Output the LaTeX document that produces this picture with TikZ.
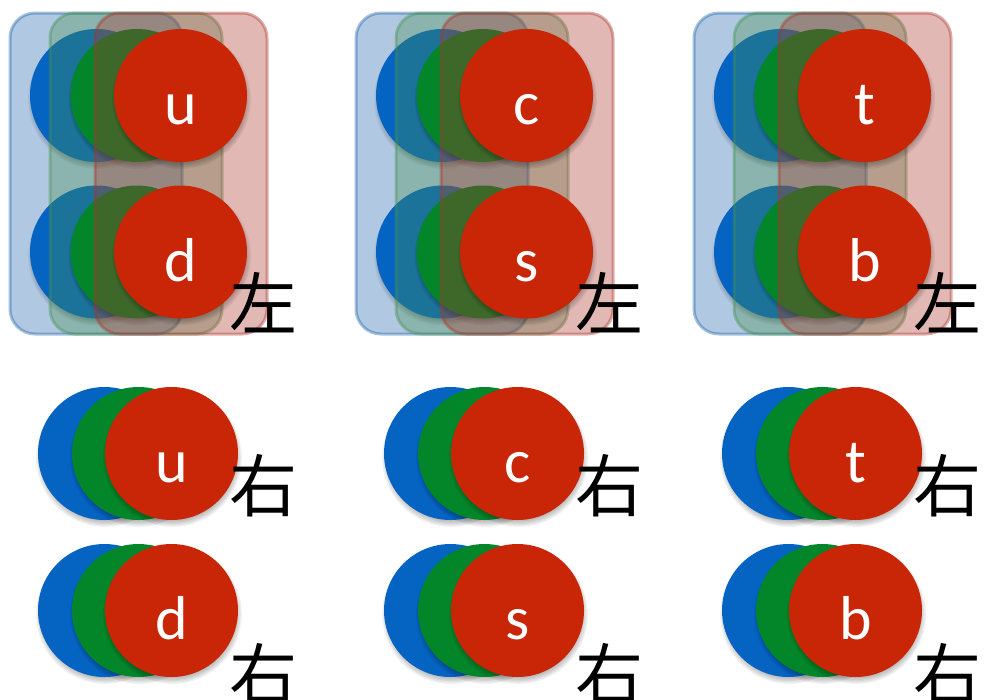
\documentclass[tikz,border=0pt]{standalone}
\usepackage{fontspec}
\setmainfont{Carlito}
\newfontfamily\cjk{Noto Sans CJK SC}
\usetikzlibrary{calc}
\definecolor{qblue}{RGB}{5,99,193}
\definecolor{qgreen}{RGB}{3,133,42}
\definecolor{qred}{RGB}{200,38,6}
\definecolor{rblue}{RGB}{30,100,172}
\definecolor{rgreen}{RGB}{70,145,80}
\definecolor{rred}{RGB}{172,52,42}
\tikzset{
  ball/.style={circle, minimum size=133pt, inner sep=0pt, text=white,
    font=\fontsize{62}{62}\selectfont, text height=58pt, text depth=0pt},
  multibox/.style={rectangle, rounded corners=25pt, minimum width=172pt,
    minimum height=321pt, inner sep=0pt, line width=3pt,
    fill opacity=0.35, draw opacity=0.4},
  hand/.style={font=\cjk\fontsize{68}{68}\selectfont, inner sep=0pt, text=black},
  softshade/.style={black, opacity=0.055},
}
\newcommand\qball[5]{%
  \foreach \kk in {0,...,6}{\fill[softshade] (#2+1,#3+4) circle[radius={(61+1.4*\kk)*1pt}];}
  \node[ball, fill=#4] (#1) at (#2,#3) {#5};}
\begin{document}
\begin{tikzpicture}[x=1pt,y=-1pt]
\useasboundingbox (0,0) rectangle (984,699);
\fill[white] (0,0) rectangle (984,699);
\foreach \X/\up/\dn/\col in {0/u/d/1, 346/c/s/2, 684/t/b/3}{
  % left-handed doublet
  \node[multibox, fill=rblue, draw=rblue] (L\col B) at (\X+96,173.5) {};
  \qball{L\col ub}{\X+96.5}{95.5}{qblue}{}
  \qball{L\col db}{\X+96.5}{252}{qblue}{}
  \node[multibox, fill=rgreen, draw=rgreen] (L\col G) at (\X+136,173.5) {};
  \qball{L\col ug}{\X+137}{95.5}{qgreen}{}
  \qball{L\col dg}{\X+137}{252}{qgreen}{}
  \node[multibox, fill=rred, draw=rred] (L\col R) at (\X+181,173.5) {};
  \qball{L\col ur}{\X+180.5}{95.5}{qred}{\up}
  \qball{L\col dr}{\X+180.5}{252}{qred}{\dn}
  \node[hand] (L\col h) at (\X+263.5,302.5) {左};
  % right-handed singlets
  \qball{R\col ub}{\X+104.5}{453.5}{qblue}{}
  \qball{R\col ug}{\X+138.5}{453.5}{qgreen}{}
  \qball{R\col ur}{\X+171.5}{453.5}{qred}{\up}
  \node[hand] (R\col uh) at (\X+263,485.5) {右};
  \qball{R\col db}{\X+104.5}{610.5}{qblue}{}
  \qball{R\col dg}{\X+138.5}{610.5}{qgreen}{}
  \qball{R\col dr}{\X+171.5}{610.5}{qred}{\dn}
  \node[hand] (R\col dh) at (\X+263,674.5) {右};
}
\end{tikzpicture}
\end{document}
